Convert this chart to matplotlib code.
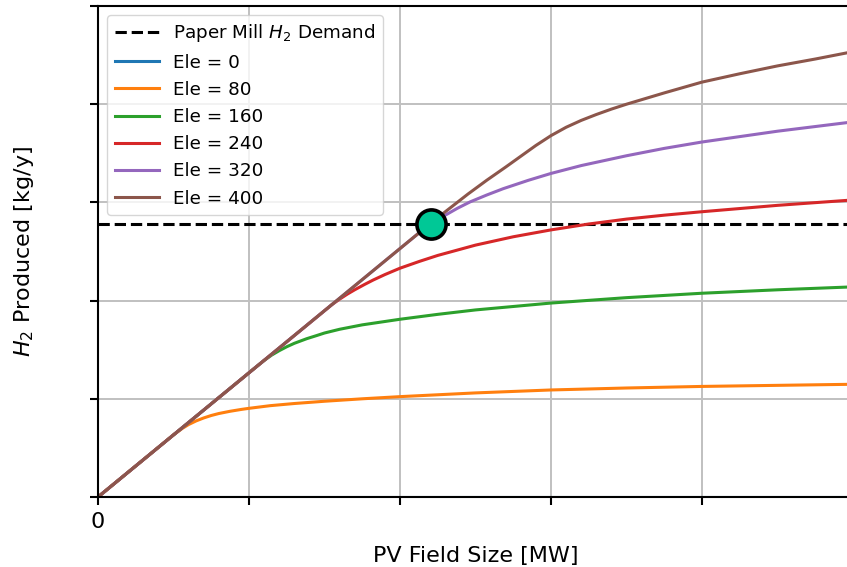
import matplotlib
matplotlib.use("Agg")
import matplotlib.pyplot as plt

# PV field size [MW] and H2 produced [1e6 kg/y] for each electrolyser size
ele_sizes = [0, 80, 160, 240, 320, 400]

pv_0 = [0, 50]
h2_0 = [0, 0]

pv_80 = [0, 5.0, 5.6, 6.0, 6.5, 7.0, 7.5, 8.0, 8.75, 9.5, 10.0, 11.4, 13.0, 15.0,
         17.5, 20.0, 25.0, 30.0, 35.0, 40.0, 45.0, 50.0]
h2_80 = [0, 0.633, 0.70, 0.738, 0.775, 0.805, 0.83, 0.85, 0.873, 0.892, 0.903,
         0.93, 0.952, 0.975, 1.0, 1.022, 1.06, 1.09, 1.11, 1.126, 1.137, 1.148]

pv_160 = [0, 10.5, 11.0, 11.5, 12.0, 12.5, 13.0, 13.82, 14.5, 15.0, 16.0, 17.5,
          20.0, 22.5, 25.0, 30.0, 35.0, 40.0, 45.0, 50.0]
h2_160 = [0, 1.328, 1.39, 1.445, 1.49, 1.53, 1.565, 1.612, 1.645, 1.67, 1.708,
          1.753, 1.81, 1.86, 1.905, 1.975, 2.03, 2.075, 2.11, 2.14]

pv_240 = [0, 15.5, 16.0, 16.5, 17.0, 17.66, 18.23, 19.0, 20.0, 21.3, 22.5, 25.0,
          27.5, 30.0, 32.5, 35.0, 37.5, 40.0, 45.0, 50.0]
h2_240 = [0, 1.96, 2.015, 2.065, 2.11, 2.165, 2.21, 2.265, 2.33, 2.40, 2.46, 2.565,
          2.65, 2.72, 2.78, 2.83, 2.87, 2.905, 2.97, 3.025]

pv_320 = [0, 22.0, 22.5, 23.0, 23.8, 24.64, 25.74, 26.84, 28.5, 30.0, 32.0, 35.0,
          37.5, 40.0, 45.0, 50.0]
h2_320 = [0, 2.783, 2.83, 2.87, 2.94, 3.005, 3.075, 3.14, 3.225, 3.295, 3.375,
          3.475, 3.55, 3.615, 3.725, 3.82]

pv_400 = [0, 22.0, 23.0, 24.5, 25.74, 27.0, 28.0, 29.0, 30.0, 31.0, 32.0, 33.0,
          34.0, 35.0, 37.5, 40.0, 42.5, 45.0, 47.5, 50.0]
h2_400 = [0, 2.783, 2.905, 3.085, 3.225, 3.36, 3.47, 3.58, 3.68, 3.765, 3.835,
          3.895, 3.95, 4.0, 4.115, 4.225, 4.31, 4.39, 4.46, 4.535]

demand = 2.776
match_pv = 22.05
match_h2 = 2.776

series = [(pv_0, h2_0), (pv_80, h2_80), (pv_160, h2_160),
          (pv_240, h2_240), (pv_320, h2_320), (pv_400, h2_400)]

fig = plt.figure(figsize=(8.47, 5.67), dpi=100)
ax = fig.add_axes([98 / 847, 1 - 497 / 567, 755 / 847, 491 / 567])

ax.axhline(demand, color="k", ls="--", lw=2.2, label="Paper Mill $H_2$ Demand")
for ele, (x, y) in zip(ele_sizes, series):
    ax.plot(x, y, lw=2.2, label=f"Ele = {ele}")

ax.plot(match_pv, match_h2, "o", ms=21, mfc="#00c896", mec="k", mew=2.6, zorder=5)

ax.set_xlim(0, 50)
ax.set_ylim(0, 5)
ax.set_xticks([0, 10, 20, 30, 40, 50])
ax.set_xticklabels(["0", "", "", "", "", ""])
ax.set_yticks([0, 1, 2, 3, 4, 5])
ax.set_yticklabels([])
ax.tick_params(length=6, width=1.5, labelsize=16, pad=5)
for s in ax.spines.values():
    s.set_linewidth(1.5)
ax.grid(True, color="#c0c0c0", lw=1.4)

ax.set_xlabel("PV Field Size [MW]", fontsize=16, labelpad=10)
ax.set_ylabel("$H_2$ Produced [kg/y]", fontsize=16, labelpad=34)

ax.legend(loc="upper left", fontsize=13.2, handlelength=2.4)

fig.savefig("out.png", dpi=100)
